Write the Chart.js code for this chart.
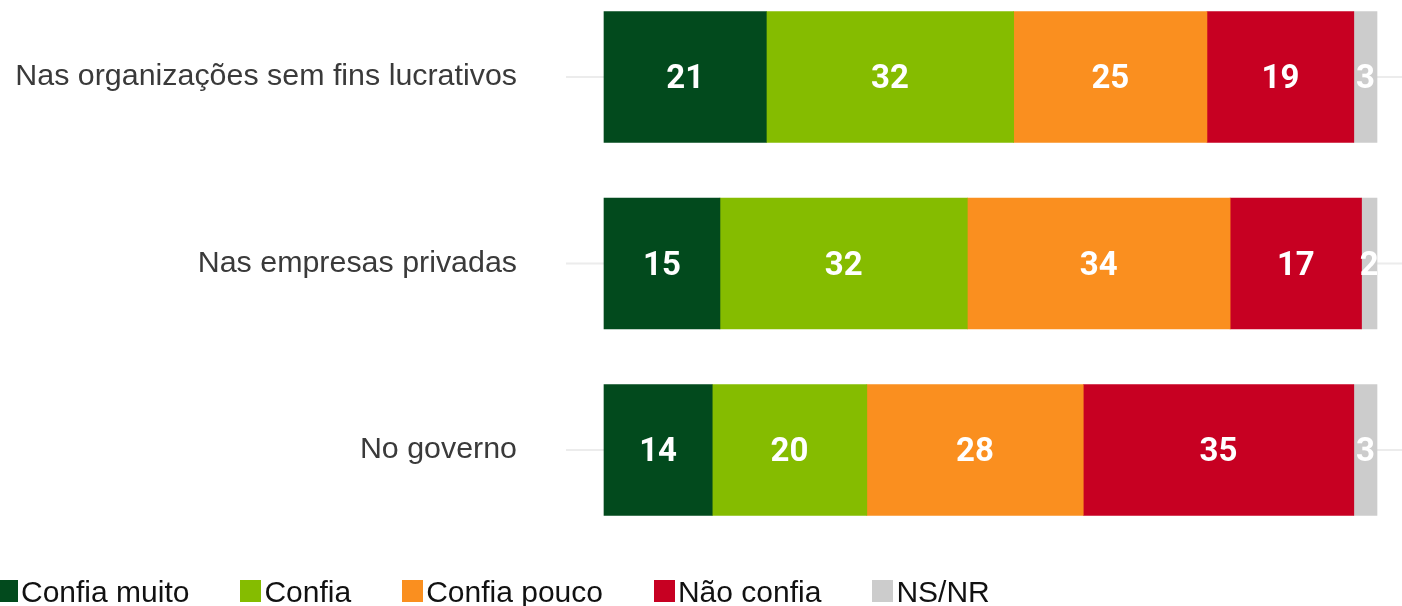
<!DOCTYPE html>
<html>
<head>
<meta charset="utf-8">
<script src="https://cdn.jsdelivr.net/npm/chart.js@4.4.0/dist/chart.umd.min.js"></script>
<style>
  body { margin: 0; background: #fff; overflow: hidden; }
  #caixa { position: relative; width: 1402px; height: 606px; }
  #legenda {
    position: absolute; left: -3px; top: 577px;
    display: flex; gap: 51px;
    font-family: "Liberation Sans", Arial, sans-serif; font-size: 30px; line-height: 30px; color: #111;
  }
  .item { display: flex; align-items: flex-start; white-space: nowrap; }
  .quad { width: 21px; height: 22px; margin-top: 3px; margin-right: 3px; }
</style>
</head>
<body>
<div id="caixa">
  <canvas id="grafico"></canvas>
  <div id="legenda"></div>
</div>
<script>
const categorias = ["Nas organizações sem fins lucrativos", "Nas empresas privadas", "No governo"];
const series = ["Confia muito", "Confia", "Confia pouco", "Não confia", "NS/NR"];
const cores = ["#024a1d", "#85bc00", "#fa8f1f", "#c70022", "#cccccc"];

const confiaMuito = [21, 15, 14];
const confia = [32, 32, 20];
const confiaPouco = [25, 34, 28];
const naoConfia = [19, 17, 35];
const nsnr = [3, 2, 3];

const valores = [confiaMuito, confia, confiaPouco, naoConfia, nsnr];

// linhas de grade horizontais atrás das barras
const gradePlugin = {
  id: "grade",
  beforeDatasetsDraw(chart) {
    const ctx = chart.ctx;
    const y = chart.scales.y;
    ctx.save();
    ctx.strokeStyle = "#ececec";
    ctx.lineWidth = 2;
    categorias.forEach((_, i) => {
      const py = y.getPixelForTick(i);
      ctx.beginPath();
      ctx.moveTo(chart.chartArea.left - 38, py);
      ctx.lineTo(chart.width, py);
      ctx.stroke();
    });
    ctx.restore();
  }
};

// rótulos brancos no centro de cada segmento
const rotulosPlugin = {
  id: "rotulos",
  afterDatasetsDraw(chart) {
    const ctx = chart.ctx;
    const area = chart.chartArea;
    ctx.save();
    ctx.beginPath();
    ctx.rect(area.left, 0, area.right - area.left, chart.height);
    ctx.clip();
    ctx.fillStyle = "#ffffff";
    ctx.font = "bold 33px Roboto";
    ctx.textAlign = "center";
    ctx.textBaseline = "middle";
    chart.data.datasets.forEach((ds, d) => {
      chart.getDatasetMeta(d).data.forEach((el, i) => {
        const cx = (el.x + el.base) / 2;
        ctx.fillText(String(ds.data[i]), cx, el.y + 3);
      });
    });
    ctx.restore();
  }
};

new Chart(document.getElementById("grafico"), {
  type: "bar",
  data: {
    labels: categorias,
    datasets: series.map((nome, i) => ({
      label: nome,
      data: valores[i],
      backgroundColor: cores[i],
      borderWidth: 0,
      barThickness: 131,
      clip: false
    }))
  },
  options: {
    indexAxis: "y",
    responsive: true,
    maintainAspectRatio: false,
    animation: false,
    layout: { padding: { top: 77, bottom: 156, right: 25, left: 0 } },
    plugins: { legend: { display: false }, tooltip: { enabled: false } },
    scales: {
      x: { stacked: true, min: 0, max: 100, display: false },
      y: {
        stacked: true,
        offset: false,
        grid: { display: false, drawTicks: false },
        border: { display: false },
        ticks: {
          padding: 87,
          color: "#3a3a3a",
          font: { family: "'Liberation Sans', Arial, sans-serif", size: 30.4 }
        },
        afterFit(scale) {
          scale.width = 604;
          scale.paddingTop = 0;
          scale.paddingBottom = 0;
        }
      }
    }
  },
  plugins: [gradePlugin, rotulosPlugin]
});

const legenda = document.getElementById("legenda");
series.forEach((nome, i) => {
  const item = document.createElement("div");
  item.className = "item";
  item.innerHTML = `<span class="quad" style="background:${cores[i]}"></span><span>${nome}</span>`;
  legenda.appendChild(item);
});
</script>
</body>
</html>
